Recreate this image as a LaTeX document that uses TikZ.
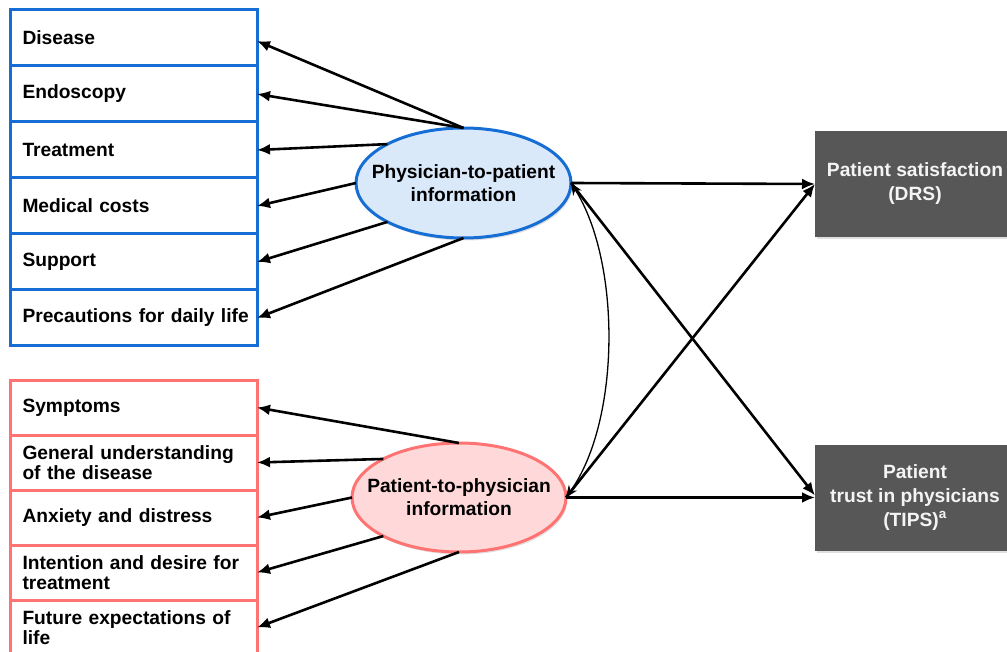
\documentclass[tikz,border=0pt]{standalone}
\usepackage{fontspec}
\setmainfont{Liberation Sans}
\usetikzlibrary{arrows.meta,shadows,calc,shapes.geometric}
\definecolor{bblue}{RGB}{22,110,212}
\definecolor{bfill}{RGB}{218,233,250}
\definecolor{ppink}{RGB}{255,115,115}
\definecolor{pfill}{RGB}{255,217,217}
\definecolor{dgray}{RGB}{87,87,87}
\definecolor{ltext}{RGB}{244,244,244}
\begin{document}
\begin{tikzpicture}[x=1pt,y=-1pt,
  lbox/.style={draw, line width=3pt, fill=white, minimum height=56pt, text width=222pt,
    inner xsep=12.5pt, inner ysep=0pt, align=left, outer sep=0pt,
    font=\bfseries\fontsize{19.2}{20}\selectfont},
  bluebox/.style={lbox, draw=bblue},
  pinkbox/.style={lbox, draw=ppink, minimum height=55pt},
  latent/.style={ellipse, line width=3pt, inner sep=0pt, outer sep=0pt,
    drop shadow={shadow xshift=1.5pt, shadow yshift=-2.5pt, opacity=0.25}},
  lattext/.style={align=center, inner sep=0pt, font=\bfseries\fontsize{19.2}{23}\selectfont},
  outcome/.style={fill=dgray, text=ltext, minimum width=200pt, minimum height=106pt,
    align=center, inner sep=0pt, outer sep=0pt,
    font=\bfseries\fontsize{19.2}{24}\selectfont,
    drop shadow={shadow xshift=1.5pt, shadow yshift=-2.5pt, opacity=0.25}},
  arr/.style={line width=2.6pt, -{Latex[length=13pt,width=11pt]}},
  cov/.style={line width=1.3pt, {Stealth[length=12pt,width=10pt]}-{Stealth[length=12pt,width=10pt]}}
]
\useasboundingbox (0,0) rectangle (1007,652);
\clip (0,0) rectangle (1007,652);

% blue indicator boxes
\node[bluebox] (b1) at (133.5,38) {Disease};
\node[bluebox] (b2) at (133.5,94) {Endoscopy};
\node[bluebox] (b3) at (133.5,150) {Treatment};
\node[bluebox] (b4) at (133.5,206) {Medical costs};
\node[bluebox] (b5) at (133.5,262) {Support};
\node[bluebox] (b6) at (133.5,318) {\mbox{Precautions for daily life}};

% pink indicator boxes
\node[pinkbox] (p1) at (133.5,407.5) {Symptoms};
\node[pinkbox] (p2) at (133.5,462.5) {\mbox{General understanding}\\of the disease};
\node[pinkbox] (p3) at (133.5,517.5) {Anxiety and distress};
\node[pinkbox] (p4) at (133.5,572.5) {\mbox{Intention and desire for}\\treatment};
\node[pinkbox] (p5) at (133.5,627.5) {Future expectations of\\life};

% latent variables
\node[latent, draw=bblue, fill=bfill, minimum width=215pt, minimum height=110pt,
  label={[lattext]center:Physician-to-patient\\information}] (e1) at (463.5,183) {};
\node[latent, draw=ppink, fill=pfill, minimum width=214pt, minimum height=109pt,
  label={[lattext]center:Patient-to-physician\\information}] (e2) at (459,497.5) {};

% outcomes
\node[outcome] (s1) at (915,184) {Patient satisfaction\\(DRS)};
\node[outcome] (s2) at (915,497.5) {Patient\\trust in physicians\\(TIPS)\textsuperscript{a}};

% loadings
\draw[arr] (e1.north) -- ($(b1.east)+(0,3)$);
\draw[arr] (e1.north) -- (b2.east);
\draw[arr] (e1.north west) -- (b3.east);
\draw[arr] (e1.west) -- (b4.east);
\draw[arr] (e1.south west) -- (b5.east);
\draw[arr] (e1.south) -- (b6.east);

\draw[arr] (e2.north) -- (p1.east);
\draw[arr] (e2.north west) -- (p2.east);
\draw[arr] (e2.west) -- (p3.east);
\draw[arr] (e2.south west) -- (p4.east);
\draw[arr] (e2.south) -- (p5.east);

% structural paths
\draw[arr] (e1.east) -- (s1.west);
\draw[arr] (e1.east) -- ($(s2.west)+(0,-2)$);
\draw[arr] (e2.east) -- (s2.west);
\draw[arr] (e2.east) -- (s1.west);

% covariance
\draw[cov] (e1.east) .. controls (621,262) and (621,420) .. (e2.east);
\end{tikzpicture}
\end{document}
